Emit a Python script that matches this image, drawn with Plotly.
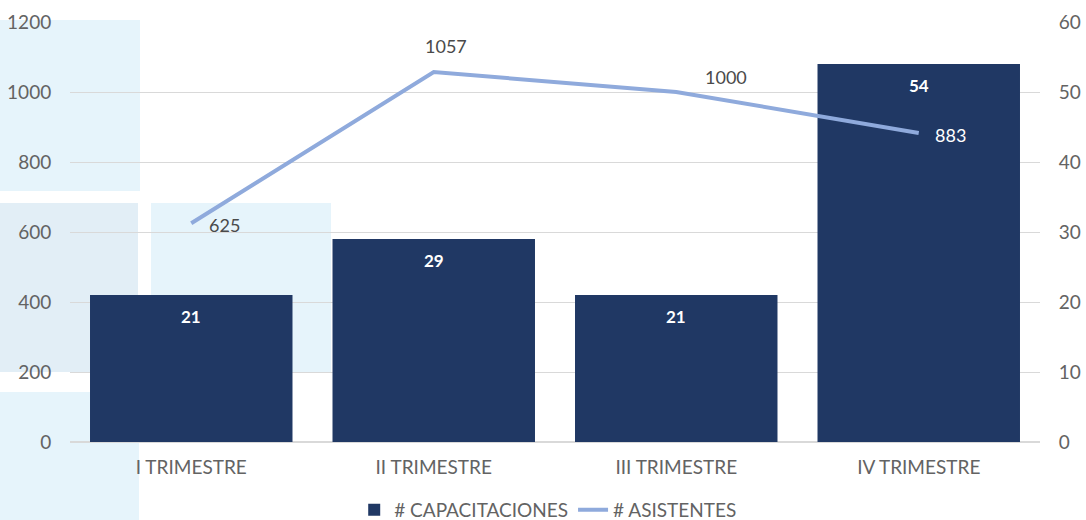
import plotly.graph_objects as go

# Quarterly training data
trimestres = ["I TRIMESTRE", "II TRIMESTRE", "III TRIMESTRE", "IV TRIMESTRE"]
capacitaciones = [21, 29, 21, 54]
asistentes = [625, 1057, 1000, 883]

# label offsets (px) for the attendee values
asist_xshift = [33, 12, 50, 32]
asist_yshift = [-2, 26, 15, -2]

BAR_COLOR = "#203864"
LINE_COLOR = "#8FAADC"
TEXT_GRAY = "#636363"
FONT = "Lato"
FS = 19

# plot-area geometry in pixels (used to place decorative panels)
W, H = 1086, 520
L, R, T, B = 70, 46, 22, 78
PW, PH = W - L - R, H - T - B


def px_rect(x0, y0, x1, y1, color):
    return dict(
        type="rect", xref="paper", yref="paper", layer="below",
        x0=(x0 - L) / PW, x1=(x1 - L) / PW,
        y0=(H - B - y1) / PH, y1=(H - B - y0) / PH,
        fillcolor=color, line=dict(width=0),
    )


fig = go.Figure()

fig.add_trace(go.Bar(
    x=trimestres, y=capacitaciones, name="# CAPACITACIONES",
    marker=dict(color=BAR_COLOR, line=dict(width=0)),
    yaxis="y", hoverinfo="skip",
))

fig.add_trace(go.Scatter(
    x=trimestres, y=asistentes, name="# ASISTENTES",
    mode="lines", line=dict(color=LINE_COLOR, width=4),
    yaxis="y2", hoverinfo="skip",
))

annotations = []
for t, v in zip(trimestres, capacitaciones):
    annotations.append(dict(
        x=t, y=v, xref="x", yref="y", text=f"<b>{v}</b>", showarrow=False,
        yanchor="middle", yshift=-21,
        font=dict(family=FONT, size=17, color="white"),
    ))
for t, v, dx, dy in zip(trimestres, asistentes, asist_xshift, asist_yshift):
    annotations.append(dict(
        x=t, y=v, xref="x", yref="y2", text=str(v), showarrow=False,
        xshift=dx, yshift=dy,
        font=dict(family=FONT, size=18, color="#4A4A4A" if v != 883 else "white"),
    ))

shapes = [
    px_rect(0, 20, 140, 191, "#E6F4FB"),
    px_rect(0, 203, 138, 372, "#E2EEF6"),
    px_rect(151, 203, 331, 372, "#E6F4FB"),
    px_rect(0, 392, 139, 520, "#E6F4FB"),
]

fig.update_layout(
    width=W, height=H,
    margin=dict(l=L, r=R, t=T, b=B, autoexpand=False),
    paper_bgcolor="white", plot_bgcolor="rgba(0,0,0,0)",
    font=dict(family=FONT, size=FS, color=TEXT_GRAY),
    bargap=0.165,
    shapes=shapes,
    annotations=annotations,
    xaxis=dict(
        showgrid=False, showline=False, zeroline=False,
        ticks="outside", ticklen=8, tickcolor="rgba(0,0,0,0)",
        tickfont=dict(family=FONT, size=FS, color=TEXT_GRAY),
    ),
    yaxis=dict(
        side="right", range=[0, 60], dtick=10,
        showgrid=True, gridcolor="#D9D9D9", gridwidth=1,
        zeroline=True, zerolinecolor="#D9D9D9", showline=False,
        ticks="outside", ticklen=14, tickcolor="rgba(0,0,0,0)",
        tickfont=dict(family=FONT, size=FS, color=TEXT_GRAY),
    ),
    yaxis2=dict(
        side="left", overlaying="y", range=[0, 1200], dtick=200,
        showgrid=False, zeroline=False, showline=False,
        ticks="outside", ticklen=14, tickcolor="rgba(0,0,0,0)",
        tickfont=dict(family=FONT, size=FS, color=TEXT_GRAY),
    ),
    legend=dict(
        orientation="h", x=0.493, xanchor="center",
        yref="container", y=(H - 510) / H, yanchor="middle",
        font=dict(family=FONT, size=FS, color=TEXT_GRAY),
        bgcolor="rgba(0,0,0,0)", traceorder="normal",
    ),
    showlegend=True,
)

fig.write_html("out.html")
